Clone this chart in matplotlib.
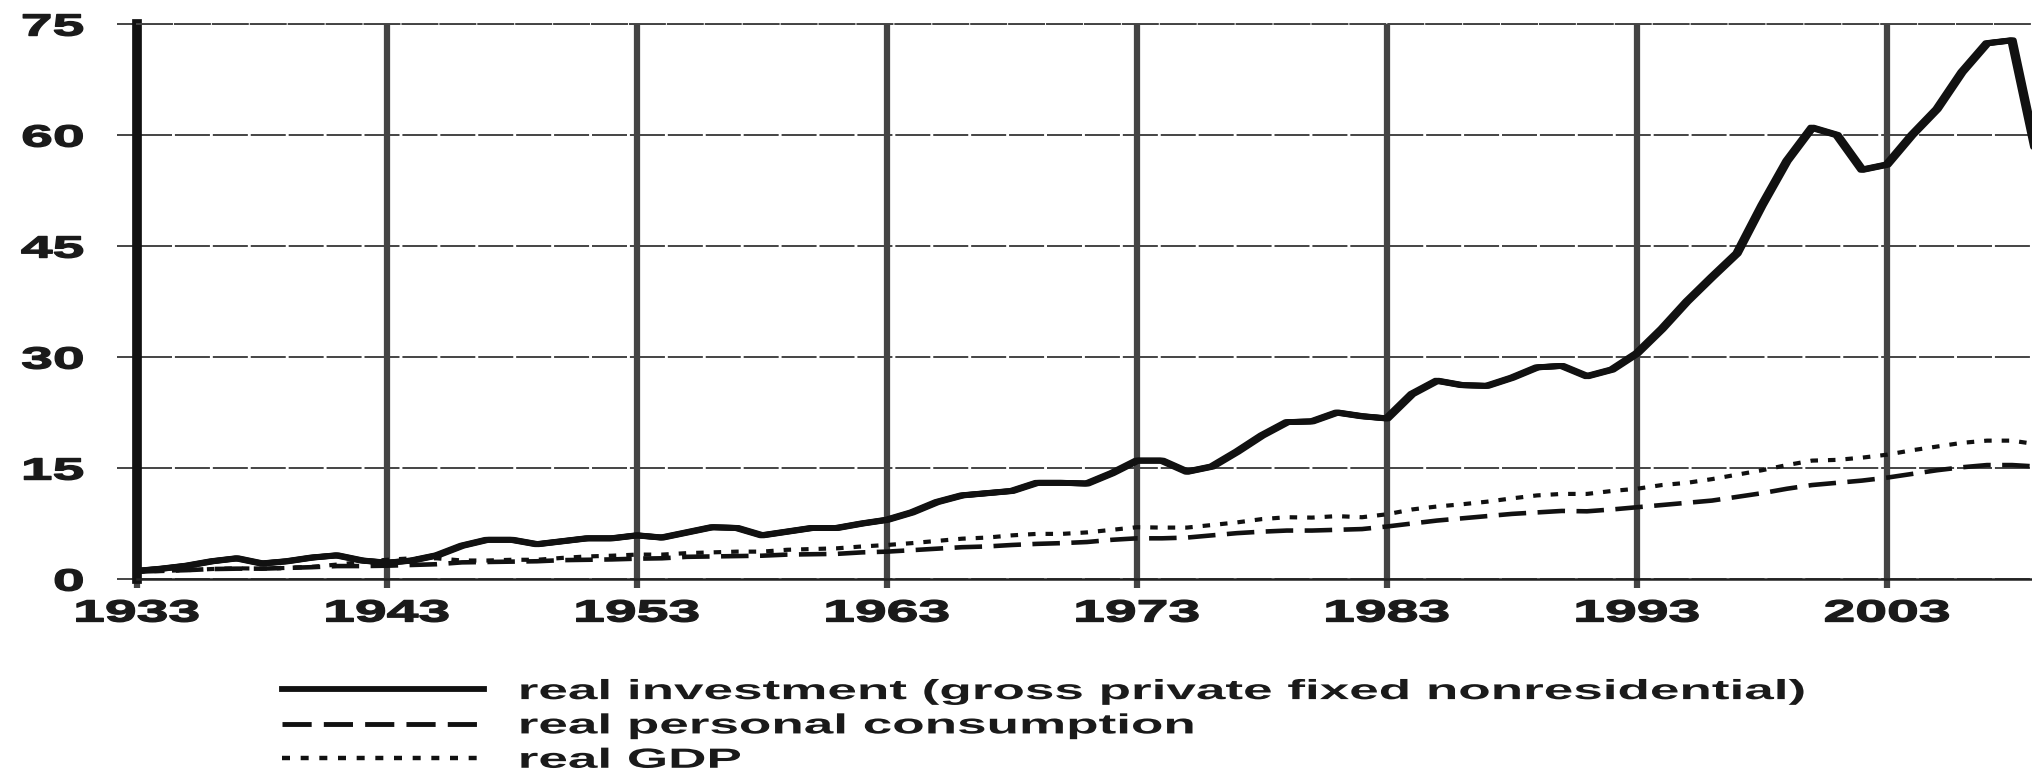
import matplotlib
matplotlib.use('Agg')
import matplotlib.pyplot as plt
from matplotlib.lines import Line2D
from matplotlib.patheffects import AbstractPathEffect, Stroke, Normal
from matplotlib.transforms import Affine2D

# -------------------------------
# data
# -------------------------------
years = list(range(1933, 2010))

investment = [1.1, 1.4, 1.8, 2.4, 2.8, 2.1, 2.4, 2.9, 3.2, 2.5,
              2.2, 2.5, 3.2, 4.5, 5.3, 5.3, 4.7, 5.1, 5.5, 5.5,
              5.9, 5.6, 6.3, 7.0, 6.9, 5.9, 6.4, 6.9, 6.9, 7.5,
              8.0, 9.0, 10.4, 11.3, 11.6, 11.9, 13.0, 13.0, 12.9, 14.3,
              16.0, 16.0, 14.5, 15.2, 17.2, 19.4, 21.2, 21.3, 22.5, 22.0,
              21.7, 25.0, 26.8, 26.2, 26.1, 27.2, 28.6, 28.8, 27.4, 28.3,
              30.5, 33.8, 37.5, 40.8, 44.0, 50.5, 56.5, 61.0, 60.0, 55.3,
              56.0, 60.0, 63.5, 68.5, 72.4, 72.8, 57.0]

consumption = [1.0, 1.1, 1.2, 1.35, 1.4, 1.4, 1.5, 1.6, 1.75, 1.75,
               1.8, 1.9, 2.0, 2.25, 2.3, 2.35, 2.4, 2.55, 2.6, 2.65,
               2.75, 2.8, 3.0, 3.05, 3.1, 3.15, 3.3, 3.35, 3.4, 3.6,
               3.7, 3.9, 4.1, 4.3, 4.4, 4.6, 4.75, 4.85, 5.0, 5.3,
               5.5, 5.5, 5.6, 5.9, 6.2, 6.4, 6.55, 6.55, 6.65, 6.75,
               7.1, 7.5, 7.9, 8.2, 8.5, 8.8, 9.0, 9.2, 9.15, 9.4,
               9.7, 10.0, 10.3, 10.6, 11.1, 11.6, 12.2, 12.7, 13.0, 13.3,
               13.7, 14.2, 14.7, 15.1, 15.4, 15.4, 15.2]

gdp = [1.0, 1.1, 1.2, 1.35, 1.45, 1.4, 1.5, 1.65, 1.95, 2.3,
       2.6, 2.8, 2.8, 2.5, 2.5, 2.6, 2.6, 2.85, 3.05, 3.15,
       3.3, 3.3, 3.5, 3.6, 3.7, 3.7, 3.95, 4.05, 4.15, 4.4,
       4.6, 4.85, 5.15, 5.45, 5.6, 5.9, 6.1, 6.1, 6.3, 6.65,
       7.0, 6.95, 6.95, 7.3, 7.65, 8.1, 8.35, 8.3, 8.5, 8.35,
       8.75, 9.4, 9.8, 10.1, 10.45, 10.9, 11.3, 11.5, 11.5, 11.9,
       12.2, 12.7, 13.0, 13.5, 14.1, 14.7, 15.4, 16.0, 16.1, 16.4,
       16.8, 17.4, 17.9, 18.4, 18.7, 18.7, 18.2]

xticks = [1933, 1943, 1953, 1963, 1973, 1983, 1993, 2003]
yticks = [0, 15, 30, 45, 60, 75]
labels = ['real investment (gross private fixed nonresidential)',
          'real personal consumption',
          'real GDP']


# the scan is stretched sideways, so widen the glyphs the same way
class Stretch(AbstractPathEffect):
    def __init__(self, sx, anchor='center', stroke=0):
        super().__init__()
        self.sx = sx
        self.anchor = anchor
        self.stroke = stroke

    def draw_path(self, renderer, gc, tpath, affine, rgbFace=None):
        ext = tpath.get_extents(affine)
        x0 = {'left': ext.x0, 'center': (ext.x0 + ext.x1) / 2,
              'right': ext.x1}[self.anchor]
        t = affine + Affine2D().translate(-x0, 0).scale(self.sx, 1).translate(x0, 0)
        gc0 = renderer.new_gc()
        gc0.copy_properties(gc)
        if self.stroke:
            gc0.set_linewidth(self.stroke)
            gc0.set_foreground(rgbFace)
        renderer.draw_path(gc0, tpath, t, rgbFace)
        gc0.restore()


plt.rcParams['font.family'] = ['Liberation Sans', 'DejaVu Sans']

fig = plt.figure(figsize=(20.32, 7.77), dpi=100)
ax = fig.add_axes([0.0674, 0.2548, 0.9326, 0.7143])

ink = '#111111'
widen = [Stroke(offset=(-1.3, 0)), Stroke(offset=(1.3, 0)), Normal()]
ax.plot(years, investment, color=ink, lw=4.2, solid_joinstyle='round',
        solid_capstyle='round', path_effects=widen)
ax.plot(years, consumption, color=ink, lw=3.3, ls=(0, (6, 2.5)))
ax.plot(years, gdp, color=ink, lw=3.0, ls=(0, (1.8, 2.4)))

ax.set_xlim(1933, 2008.8)
ax.set_ylim(0, 75)
ax.set_xticks(xticks)
ax.set_yticks(yticks)
ax.set_axisbelow(True)

ax.xaxis.grid(True, color='#444444', lw=4.5)
ax.yaxis.grid(True, color='#444444', lw=1.4, ls=(0, (18, 1.5)))

ax.spines['right'].set_visible(False)
ax.spines['top'].set_color('#444444')
ax.spines['top'].set_linewidth(1.4)
ax.spines['top'].set_linestyle((0, (18, 1.5)))
ax.spines['left'].set_linewidth(7)
ax.spines['left'].set_color(ink)
ax.spines['bottom'].set_linewidth(1.8)
ax.spines['bottom'].set_color('#222222')

ax.tick_params(axis='x', length=6.5, width=4.5, color='#444444', pad=7.5,
               labelsize=22, labelcolor='#1a1a1a')
ax.tick_params(axis='y', length=14.4, width=1.4, color='#444444', pad=24,
               labelsize=22, labelcolor='#1a1a1a')
for t in ax.get_xticklabels():
    t.set_fontweight('bold')
    t.set_path_effects([Stretch(1.87, 'center', stroke=1.0)])
for t in ax.get_yticklabels():
    t.set_fontweight('bold')
    t.set_path_effects([Stretch(1.87, 'right', stroke=1.0)])

handles = [Line2D([], [], color=ink, lw=4.2),
           Line2D([], [], color=ink, lw=3.5, ls=(0, (6, 2.5))),
           Line2D([], [], color=ink, lw=3.2, ls=(0, (1.8, 2.4)))]
leg = fig.legend(handles, labels, loc='upper left',
                 bbox_to_anchor=(0.139, 0.126), frameon=False,
                 prop={'weight': 'bold', 'size': 20},
                 handlelength=7.27, handletextpad=1.26, labelspacing=0.3,
                 borderpad=0, borderaxespad=0)
for t in leg.get_texts():
    t.set_color('#1a1a1a')
    t.set_path_effects([Stretch(1.91, 'left')])

plt.savefig('out.png', dpi=100)
